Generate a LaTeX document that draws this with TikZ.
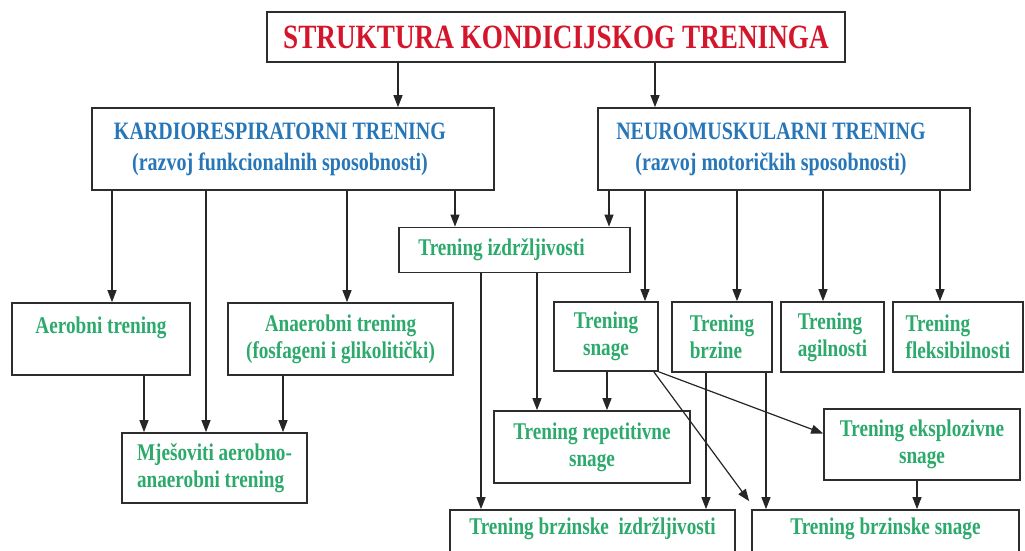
\documentclass[tikz,border=0pt]{standalone}
\usepackage{fontspec}
\setmainfont{Liberation Serif}[FakeStretch=0.8]
\usetikzlibrary{arrows.meta}
\definecolor{titlered}{RGB}{212,22,44}
\definecolor{headblue}{RGB}{38,118,184}
\definecolor{subgreen}{RGB}{44,170,108}
\definecolor{framegray}{RGB}{45,45,45}
\newcommand{\nudge}{\hspace*{-26pt}}
\tikzstyle{box}=[draw=framegray, line width=1.7pt, align=center, inner sep=0pt]
\tikzstyle{titlebox}=[box, text=titlered, font=\bfseries\fontsize{34}{36}\selectfont]
\tikzstyle{mainbox}=[box, text=headblue, font=\bfseries\fontsize{25}{31}\selectfont]
\tikzstyle{subbox}=[box, text=subgreen, font=\bfseries\fontsize{24}{27}\selectfont]
\tikzstyle{link}=[line width=1.2pt, draw=black!85, -{Triangle[length=12pt,width=9pt]}]

\begin{document}
\begin{tikzpicture}[x=1pt, y=-1pt]
    \useasboundingbox (0,0) rectangle (1025,551);
    % top
    \node[titlebox, minimum width=578, minimum height=50] (title) at (556,37) {STRUKTURA KONDICIJSKOG TRENINGA};
    \node[mainbox, minimum width=402, minimum height=82] (kardio) at (293,149) {\nudge KARDIORESPIRATORNI TRENING\\\nudge(razvoj funkcionalnih sposobnosti)};
    \node[mainbox, minimum width=372, minimum height=82] (neuro) at (784,149) {\nudge NEUROMUSKULARNI TRENING\\\nudge(razvoj motoričkih sposobnosti)};
    % middle row
    \node[subbox, minimum width=231, minimum height=45] (izdrz) at (514.5,250) {\nudge Trening izdržljivosti};
    \node[subbox, minimum width=178, minimum height=72] (aerobni) at (101,339) {Aerobni trening\\\mbox{}};
    \node[subbox, minimum width=225, minimum height=72] (anaerobni) at (340.5,339) {Anaerobni trening\\(fosfageni i glikolitički)};
    \node[subbox, minimum width=104, minimum height=69] (snage) at (606,336.5) {Trening\\snage};
    \node[subbox, minimum width=100, minimum height=70, align=left] (brzine) at (722,337) {Trening\\brzine};
    \node[subbox, minimum width=103, minimum height=70, align=left] (agil) at (832.5,337) {Trening\\agilnosti};
    \node[subbox, minimum width=130, minimum height=70, align=left] (fleks) at (958,337) {Trening\\fleksibilnosti};
    % lower rows
    \node[subbox, minimum width=185, minimum height=70, align=left] (mjesov) at (214.5,468) {Mješoviti aerobno-\\anaerobni trening};
    \node[subbox, minimum width=196, minimum height=72] (repet) at (592,447) {Trening repetitivne\\snage};
    \node[subbox, minimum width=196, minimum height=71] (eksplo) at (922,444.5) {Trening eksplozivne\\snage};
    \node[subbox, minimum width=285, minimum height=60] (brzizdr) at (592.5,540) {Trening brzinske \ izdržljivosti\\\mbox{}};
    \node[subbox, minimum width=267, minimum height=60] (brzsnage) at (885.5,540) {Trening brzinske snage\\\mbox{}};

    \draw[link] (title.south -| 398,0) -- (kardio.north -| 398,0);
    \draw[link] (title.south -| 655,0) -- (neuro.north -| 655,0);
    \draw[link] (kardio.south -| 112,0) -- (aerobni.north -| 112,0);
    \draw[link] (kardio.south -| 206,0) -- (mjesov.north -| 206,0);
    \draw[link] (kardio.south -| 347,0) -- (anaerobni.north -| 347,0);
    \draw[link] (kardio.south -| 455,0) -- (izdrz.north -| 455,0);
    \draw[link] (neuro.south -| 609,0) -- (izdrz.north -| 609,0);
    \draw[link] (neuro.south -| 645,0) -- (snage.north -| 645,0);
    \draw[link] (neuro.south -| 737,0) -- (brzine.north -| 737,0);
    \draw[link] (neuro.south -| 823,0) -- (agil.north -| 823,0);
    \draw[link] (neuro.south -| 940,0) -- (fleks.north -| 940,0);
    \draw[link] (aerobni.south -| 144,0) -- (mjesov.north -| 144,0);
    \draw[link] (anaerobni.south -| 283,0) -- (mjesov.north -| 283,0);
    \draw[link] (izdrz.south -| 481,0) -- (brzizdr.north -| 481,0);
    \draw[link] (izdrz.south -| 537,0) -- (repet.north -| 537,0);
    \draw[link] (snage.south -| 607,0) -- (repet.north -| 607,0);
    \draw[link] (snage.south east) -- ([yshift=11pt]eksplo.west);
    \draw[link] ([xshift=-5pt]snage.south east) -- ([xshift=-2pt,yshift=8pt]brzsnage.north west);
    \draw[link] (brzine.south -| 706,0) -- (brzizdr.north -| 706,0);
    \draw[link] (brzine.south -| 766,0) -- (brzsnage.north -| 766,0);
    \draw[link] (eksplo.south -| 917,0) -- (brzsnage.north -| 917,0);
\end{tikzpicture}
\end{document}
